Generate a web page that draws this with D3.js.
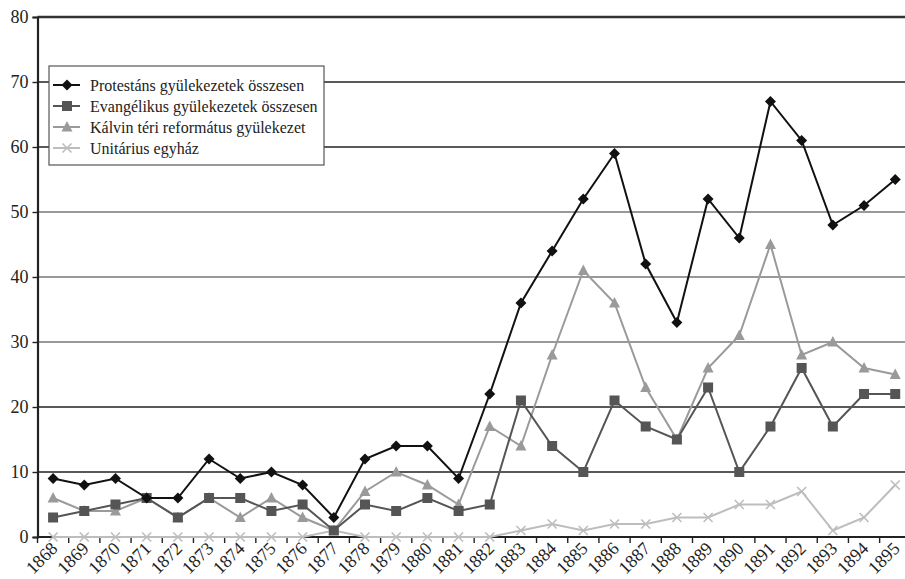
<!DOCTYPE html>
<meta charset="utf-8">
<style>
    body { margin: 0; background: #fff; }
    svg text { font-family: "Liberation Serif", "Times New Roman", serif; fill: #222; }
</style>
<body>
<script src="https://cdn.jsdelivr.net/npm/d3@7"></script>
<script>
    var years = d3.range(1868, 1896)
    var protestans = [9, 8, 9, 6, 6, 12, 9, 10, 8, 3, 12, 14, 14, 9, 22, 36, 44, 52, 59, 42, 33, 52, 46, 67, 61, 48, 51, 55]
    var evangelikus = [3, 4, 5, 6, 3, 6, 6, 4, 5, 1, 5, 4, 6, 4, 5, 21, 14, 10, 21, 17, 15, 23, 10, 17, 26, 17, 22, 22]
    var kalvin = [6, 4, 4, 6, 3, 6, 3, 6, 3, 1, 7, 10, 8, 5, 17, 14, 28, 41, 36, 23, 15, 26, 31, 45, 28, 30, 26, 25]
    var unitarius = [0, 0, 0, 0, 0, 0, 0, 0, 0, 1, 0, 0, 0, 0, 0, 1, 2, 1, 2, 2, 3, 3, 5, 5, 7, 1, 3, 8]
    var yTicks = [0, 10, 20, 30, 40, 50, 60, 70, 80]

    var series = [
        {name: "Protestáns gyülekezetek összesen", values: protestans, color: "#111", marker: "diamond"},
        {name: "Evangélikus gyülekezetek összesen", values: evangelikus, color: "#555", marker: "square"},
        {name: "Kálvin téri református gyülekezet", values: kalvin, color: "#9a9a9a", marker: "triangle"},
        {name: "Unitárius egyház", values: unitarius, color: "#bdbdbd", marker: "cross"}
    ]

    var width = 905, height = 579
    var plotLeft = 37.5, plotTop = 17, plotBottom = 537
    var step = 31.19

    var svg = d3.select("body").append("svg")
        .attr("width", width)
        .attr("height", height)

    var x = d3.scaleBand()
        .domain(years)
        .range([plotLeft, plotLeft + step * years.length])
        .paddingInner(0)
    var cx = function(d) { return x(d) + x.bandwidth() / 2 }

    var y = d3.scaleLinear()
        .domain([0, 80])
        .range([plotBottom, plotTop])

    // gridlines (the middle ones are printed lighter in the original)
    svg.append("g").selectAll("line")
        .data(yTicks.filter(function(d) { return d > 0 }))
        .enter().append("line")
        .attr("x1", plotLeft)
        .attr("x2", width)
        .attr("y1", function(d) { return y(d) })
        .attr("y2", function(d) { return y(d) })
        .attr("stroke", function(d) { return (d >= 30 && d <= 50) ? "#777" : (d == 80 ? "#333" : "#222") })
        .attr("stroke-width", function(d) { return d == 80 ? 2.5 : 1.4 })

    // y axis
    var yAxis = svg.append("g")
        .attr("transform", "translate(" + plotLeft + ",0)")
        .call(d3.axisLeft(y).tickValues(yTicks).tickSize(5).tickPadding(4))
    yAxis.select(".domain").attr("stroke", "#222").attr("stroke-width", 2.2)
    yAxis.selectAll(".tick line").attr("stroke", "#222").attr("stroke-width", 1.4)
    yAxis.selectAll("text").attr("font-size", 18).attr("fill", "#222")

    // x axis: ticks between categories, labels rotated
    var xAxis = svg.append("g")
        .attr("transform", "translate(0," + plotBottom + ")")
    xAxis.append("line")
        .attr("x1", plotLeft).attr("x2", width)
        .attr("stroke", "#222").attr("stroke-width", 2.2)
    xAxis.selectAll(".tk")
        .data(years)
        .enter().append("line")
        .attr("class", "tk")
        .attr("x1", function(d) { return x(d) })
        .attr("x2", function(d) { return x(d) })
        .attr("y1", 0).attr("y2", 6)
        .attr("stroke", "#222").attr("stroke-width", 1.4)
    xAxis.selectAll("text")
        .data(years)
        .enter().append("text")
        .attr("transform", function(d) { return "translate(" + (cx(d) - 4) + ",3) rotate(-45)" })
        .attr("text-anchor", "end")
        .attr("dy", "0.75em")
        .attr("font-size", 18)
        .text(function(d) { return d })

    var line = d3.line()
        .x(function(d, i) { return cx(years[i]) })
        .y(function(d) { return y(d) })

    function drawMarker(g, type, color) {
        if (type == "diamond") {
            g.append("path").attr("d", "M0,-5.5L5.5,0L0,5.5L-5.5,0Z").attr("fill", color)
        } else if (type == "square") {
            g.append("rect").attr("x", -5).attr("y", -5).attr("width", 10).attr("height", 10).attr("fill", color)
        } else if (type == "triangle") {
            g.append("path").attr("d", "M0,-6L5.5,4.5L-5.5,4.5Z").attr("fill", color)
        } else {
            g.append("path").attr("d", "M-4.5,-4.5L4.5,4.5M-4.5,4.5L4.5,-4.5")
                .attr("stroke", color).attr("stroke-width", 1.6).attr("fill", "none")
        }
    }

    // draw lighter series first so the black one sits on top
    series.slice().reverse().forEach(function(s) {
        svg.append("path")
            .datum(s.values)
            .attr("d", line)
            .attr("fill", "none")
            .attr("stroke", s.color)
            .attr("stroke-width", 2)
        svg.append("g").selectAll("g")
            .data(s.values)
            .enter().append("g")
            .attr("transform", function(d, i) { return "translate(" + cx(years[i]) + "," + y(d) + ")" })
            .each(function() { drawMarker(d3.select(this), s.marker, s.color) })
    })

    // legend
    var legend = svg.append("g").attr("transform", "translate(49,66)")
    legend.append("rect")
        .attr("width", 275).attr("height", 99)
        .attr("fill", "#fff").attr("stroke", "#555").attr("stroke-width", 1.2)
    var item = legend.selectAll(".item")
        .data(series)
        .enter().append("g")
        .attr("class", "item")
        .attr("transform", function(d, i) { return "translate(0," + (19 + i * 21) + ")" })
    item.append("line")
        .attr("x1", 4).attr("x2", 31)
        .attr("stroke", function(d) { return d.color })
        .attr("stroke-width", 2)
    item.append("g")
        .attr("transform", "translate(18,0)")
        .each(function(d) { drawMarker(d3.select(this), d.marker, d.color) })
    item.append("text")
        .attr("x", 41)
        .attr("dy", "0.35em")
        .attr("font-size", 16)
        .text(function(d) { return d.name })
</script>
</body>
